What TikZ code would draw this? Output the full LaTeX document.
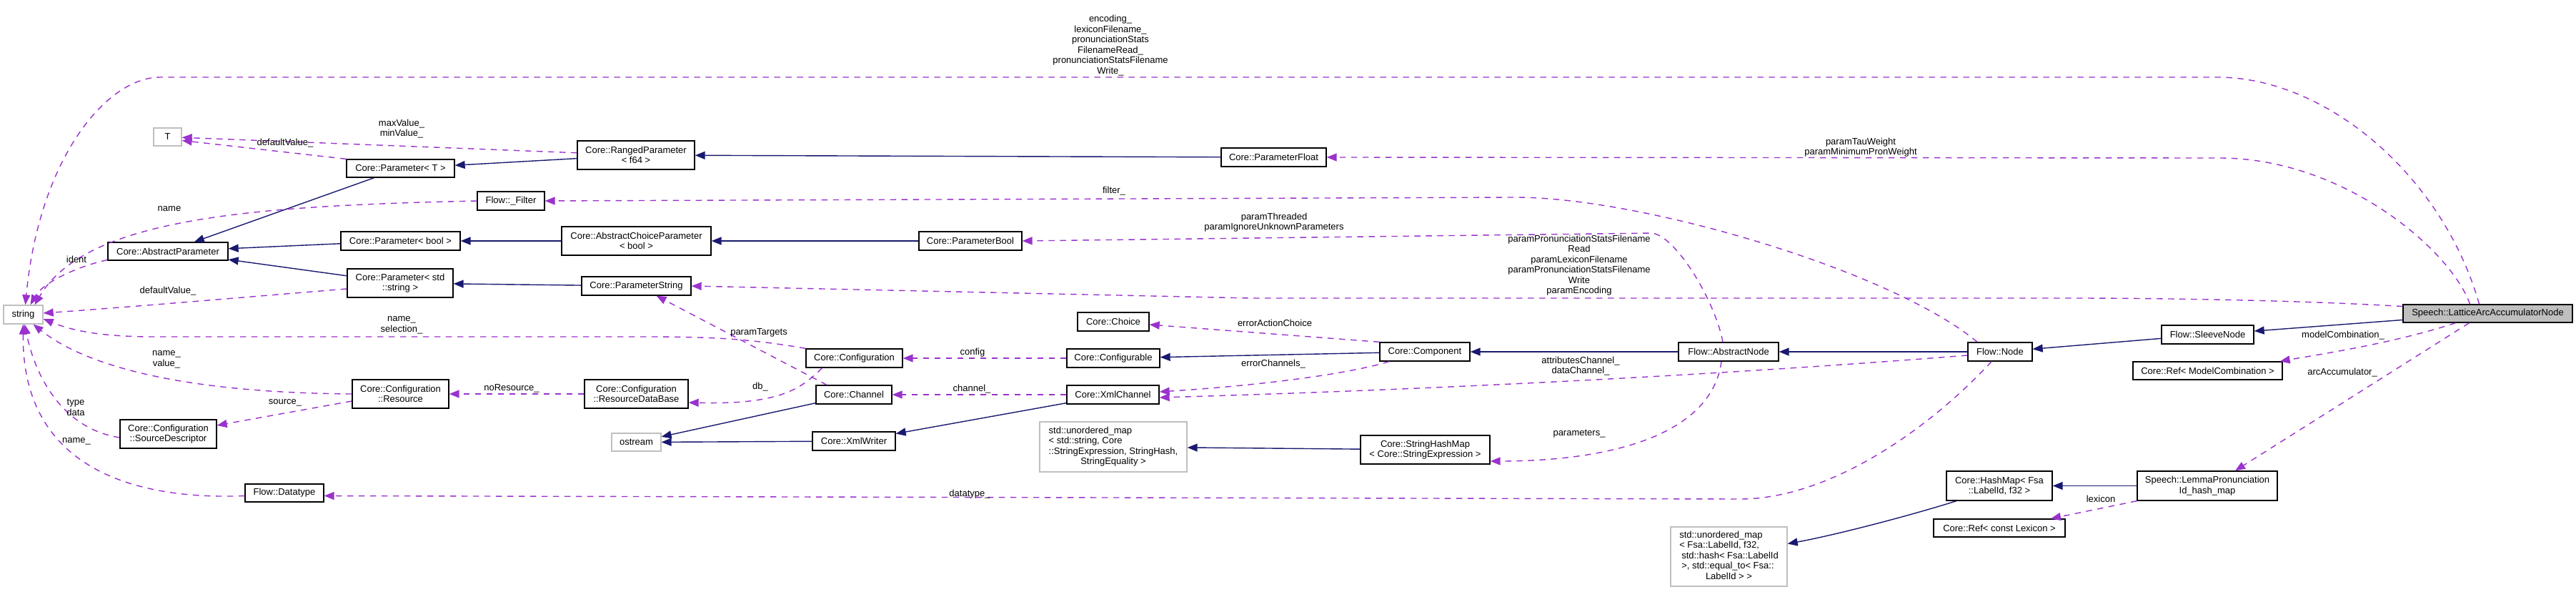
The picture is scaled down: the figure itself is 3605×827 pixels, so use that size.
\documentclass[tikz,border=0pt]{standalone}
\usepackage{fontspec}
\setmainfont{Liberation Sans}
\usetikzlibrary{arrows.meta}
\definecolor{inhcol}{HTML}{191970}
\definecolor{usecol}{HTML}{9A32CD}
\definecolor{extcol}{HTML}{BFBFBF}
\newcommand\dgfont{\fontsize{13}{14.5}\selectfont}
\tikzset{
  cls/.style={draw,line width=1.3pt,inner sep=0pt,align=center,font=\dgfont},
  ext/.style={cls,draw=extcol},
  hilite/.style={cls,fill=extcol},
  inherit/.style={draw=inhcol,line width=1.4pt,-{Triangle[length=14pt,width=11pt]}},
  uses/.style={draw=usecol,line width=1.4pt,dash pattern=on 8.5pt off 7.5pt,-{Triangle[length=14pt,width=11pt]}},
  lbl/.style={inner sep=0pt,align=center,font=\dgfont}
}
\begin{document}
\begin{tikzpicture}[x=1pt,y=-1pt]
\useasboundingbox (0,0) rectangle (3605,827);

\node[ext,minimum width=39pt,minimum height=25pt] (T) at (234.5,191.5) {T};
\node[cls,minimum width=164pt,minimum height=40pt] (Ranged) at (890,217) {Core::RangedParameter\\< f64 >};
\node[cls,minimum width=151pt,minimum height=25pt] (ParamT) at (560.5,235.5) {Core::Parameter< T >};
\node[cls,minimum width=94pt,minimum height=26pt] (Filter) at (715,281) {Flow::\_Filter};
\node[cls,minimum width=168pt,minimum height=25pt] (AbsParam) at (235,351.5) {Core::AbstractParameter};
\node[cls,minimum width=167pt,minimum height=26pt] (ParamOfBool) at (560.5,337) {Core::Parameter< bool >};
\node[cls,minimum width=209pt,minimum height=40pt] (AbsChoice) at (890.5,337) {Core::AbstractChoiceParameter\\< bool >};
\node[cls,minimum width=148pt,minimum height=40pt] (ParamStd) at (560,396) {Core::Parameter< std\\::string >};
\node[cls,minimum width=153pt,minimum height=26pt] (ParamString) at (890.5,400) {Core::ParameterString};
\node[ext,minimum width=55pt,minimum height=26pt] (string) at (32.5,440) {string};
\node[cls,minimum width=135pt,minimum height=40pt] (Resource) at (560.5,551) {Core::Configuration\\::Resource};
\node[cls,minimum width=145pt,minimum height=40pt] (ResDB) at (890.5,551) {Core::Configuration\\::ResourceDataBase};
\node[cls,minimum width=135pt,minimum height=40pt] (SrcDesc) at (235.5,607) {Core::Configuration\\::SourceDescriptor};
\node[ext,minimum width=69pt,minimum height=25pt] (ostream) at (890.5,618.5) {ostream};
\node[cls,minimum width=110pt,minimum height=25pt] (Datatype) at (398,689.5) {Flow::Datatype};
\node[cls,minimum width=147pt,minimum height=26pt] (ParamFloat) at (1782.5,220) {Core::ParameterFloat};
\node[cls,minimum width=144pt,minimum height=26pt] (ParamBool) at (1358,337) {Core::ParameterBool};
\node[cls,minimum width=100pt,minimum height=26pt] (Choice) at (1558,450) {Core::Choice};
\node[cls,minimum width=135pt,minimum height=26pt] (Configuration) at (1195.5,501) {Core::Configuration};
\node[cls,minimum width=130pt,minimum height=26pt] (Configurable) at (1558,501) {Core::Configurable};
\node[cls,minimum width=106pt,minimum height=26pt] (Channel) at (1195,552) {Core::Channel};
\node[cls,minimum width=129pt,minimum height=26pt] (XmlChannel) at (1557.5,552) {Core::XmlChannel};
\node[cls,minimum width=116pt,minimum height=26pt] (XmlWriter) at (1195,617) {Core::XmlWriter};
\node[ext,minimum width=206pt,minimum height=70pt] (umapStr) at (1558,625) {\begin{tabular}{@{}l@{}}std::unordered\_map\\< std::string, Core\\::StringExpression, StringHash,\\\multicolumn{1}{@{}c@{}}{StringEquality >}\end{tabular}};
\node[cls,minimum width=181pt,minimum height=40pt] (StrHashMap) at (1994.5,629) {Core::StringHashMap\\< Core::StringExpression >};
\node[cls,minimum width=126pt,minimum height=26pt] (Component) at (1994,492) {Core::Component};
\node[cls,minimum width=140pt,minimum height=26pt] (AbsNode) at (2419,492) {Flow::AbstractNode};
\node[cls,minimum width=90pt,minimum height=26pt] (FlowNode) at (2799,492) {Flow::Node};
\node[cls,minimum width=129pt,minimum height=26pt] (SleeveNode) at (3089.5,468) {Flow::SleeveNode};
\node[hilite,minimum width=237pt,minimum height=25pt] (Speech) at (3481.5,438.5) {Speech::LatticeArcAccumulatorNode};
\node[cls,minimum width=209pt,minimum height=25pt] (RefModel) at (3089.5,518.5) {Core::Ref< ModelCombination >};
\node[cls,minimum width=196pt,minimum height=41pt] (Lemma) at (3089,679.5) {Speech::LemmaPronunciation\\Id\_hash\_map};
\node[cls,minimum width=148pt,minimum height=41pt] (HashMap) at (2798,679.5) {Core::HashMap< Fsa\\::LabelId, f32 >};
\node[cls,minimum width=184pt,minimum height=25pt] (RefLex) at (2798,738.5) {Core::Ref< const Lexicon >};
\node[ext,minimum width=163pt,minimum height=83pt] (umapFsa) at (2419.5,778.5) {\begin{tabular}{@{}l@{}}std::unordered\_map\\< Fsa::LabelId, f32,\\\hspace{3pt}std::hash< Fsa::LabelId\\\hspace{3pt}>, std::equal\_to< Fsa::\\\multicolumn{1}{@{}c@{}}{LabelId > >}\end{tabular}};

\draw[inherit] (Ranged) -- (ParamT);
\draw[inherit] (ParamFloat) -- (Ranged);
\draw[inherit] (ParamT) -- (AbsParam);
\draw[inherit] (ParamOfBool) -- (AbsParam);
\draw[inherit] (AbsChoice) -- (ParamOfBool);
\draw[inherit] (ParamBool) -- (AbsChoice);
\draw[inherit] (ParamStd) -- (AbsParam);
\draw[inherit] (ParamString) -- (ParamStd);
\draw[inherit] (Component) -- (Configurable);
\draw[inherit] (AbsNode) -- (Component);
\draw[inherit] (FlowNode) -- (AbsNode);
\draw[inherit] (SleeveNode) -- (FlowNode);
\draw[inherit] (Speech) -- (SleeveNode);
\draw[inherit] (Channel) -- (ostream);
\draw[inherit] (XmlWriter) -- (ostream);
\draw[inherit] (XmlChannel) -- (XmlWriter);
\draw[inherit] (StrHashMap) -- (umapStr);
\draw[inherit] ([xshift=-60pt]HashMap.south) .. controls (2660,725) and (2560,750) .. ([yshift=18pt]umapFsa.east);
\draw[inherit] (Lemma) -- (HashMap);

\draw[uses] ([xshift=-12pt]Speech.north) .. controls (3420,250) and (3260,110) .. (3106,108) -- (224,108) .. controls (150,108) and (55,220) .. ([xshift=3pt]string.north);
\node[lbl] (lEnc) at (1554,63.5) {encoding\_\\lexiconFilename\_\\pronunciationStats\\FilenameRead\_\\pronunciationStatsFilename\\Write\_};
\draw[uses] (Ranged) -- (T);
\node[lbl] (lMax) at (562,180) {maxValue\_\\minValue\_};
\draw[uses] (ParamT.north west) -- ([yshift=-5pt]T.east);
\node[lbl] (lDefT) at (399,200) {defaultValue\_};
\draw[uses] (Filter.west) .. controls (350,288) and (120,305) .. ([xshift=16pt]string.north);
\node[lbl] (lName) at (237,292) {name};
\draw[uses] ([yshift=-12pt]AbsParam.west) .. controls (110,372) and (60,395) .. ([xshift=10pt]string.north);
\node[lbl] (lIdent) at (107,363) {ident};
\draw[uses] ([yshift=-8pt]ParamStd.west) .. controls (350,415) and (200,428) .. ([yshift=2pt]string.east);
\node[lbl] (lDefS) at (235,407) {defaultValue\_};
\draw[uses] (Configuration.north west) .. controls (1050,474) and (1000,471) .. (900,471) -- (215,471) .. controls (140,471) and (100,462) .. ([yshift=-6pt]string.east);
\node[lbl] (lSel) at (562,455) {name\_\\selection\_};
\draw[uses] (Resource.west) .. controls (350,550) and (150,535) .. ([xshift=14pt]string.south);
\node[lbl] (lVal) at (233,503) {name\_\\value\_};
\draw[uses] ([yshift=-5pt]SrcDesc.west) .. controls (90,600) and (50,530) .. ([xshift=2pt]string.south);
\node[lbl] (lType) at (106,570) {type\\data};
\draw[uses] ([yshift=-4pt]Datatype.west) .. controls (180,700) and (30,650) .. (string.south);
\node[lbl] (lDtName) at (107,617) {name\_};
\draw[uses] ([yshift=-10pt]Resource.west) -- ([yshift=12pt]SrcDesc.east);
\node[lbl] (lSrc) at (399,563) {source\_};
\draw[uses] (ResDB) -- (Resource);
\node[lbl] (lNoRes) at (716,543) {noResource\_};
\draw[uses] ([xshift=-45pt]Configuration.south) .. controls (1120,545) and (1090,566) .. ([yshift=-12pt]ResDB.east);
\node[lbl] (lDb) at (1064,541) {db\_};
\draw[uses] ([xshift=-38pt]Channel.north) -- ([xshift=28pt]ParamString.south);
\node[lbl] (lTargets) at (1062,465) {paramTargets};
\draw[uses] (Configurable) -- (Configuration);
\node[lbl] (lConfig) at (1361,493) {config};
\draw[uses] (XmlChannel) -- (Channel);
\node[lbl] (lChannel) at (1360,544) {channel\_};
\draw[uses] (Component.north west) -- ([yshift=-4pt]Choice.east);
\node[lbl] (lChoice) at (1784,452) {errorActionChoice};
\draw[uses] ([xshift=-50pt]Component.south) .. controls (1880,525) and (1750,540) .. ([yshift=4pt]XmlChannel.east);
\node[lbl] (lErrCh) at (1782,509) {errorChannels\_};
\draw[uses] ([yshift=-5pt]FlowNode.west) .. controls (2400,525) and (2000,545) .. ([yshift=-4pt]XmlChannel.east);
\node[lbl] (lAttr) at (2212,512) {attributesChannel\_\\dataChannel\_};
\draw[uses] ([xshift=-25pt]Speech.north) .. controls (3430,350) and (3280,221) .. (3106,221) -- (ParamFloat.east);
\node[lbl] (lTau) at (2604,206) {paramTauWeight\\paramMinimumPronWeight};
\draw[uses] ([xshift=-32pt]FlowNode.north) .. controls (2650,380) and (2300,276) .. (2121,276) -- (Filter.east);
\node[lbl] (lFilter) at (1559,267) {filter\_};
\draw[uses] ([yshift=10pt]Speech.west) .. controls (3200,419) and (3000,417) .. (2900,417) -- (1750,417) -- (ParamString.east);
\node[lbl] (lParams) at (2210,371) {paramPronunciationStatsFilename\\Read\\paramLexiconFilename\\paramPronunciationStatsFilename\\Write\\paramEncoding};
\draw[uses] ([xshift=-8pt]AbsNode.north) .. controls (2400,420) and (2345,330) .. (2312,326) -- (ParamBool.east);
\node[lbl] (lThreaded) at (1783,311) {paramThreaded\\paramIgnoreUnknownParameters};
\draw[uses] ([xshift=-10pt]AbsNode.south) .. controls (2395,610) and (2250,645) .. ([yshift=-16pt]StrHashMap.east);
\node[lbl] (lParamMap) at (2210,607) {parameters\_};
\draw[uses] ([xshift=-12pt]FlowNode.south) .. controls (2700,600) and (2560,698) .. (2435,698) -- ([yshift=-4pt]Datatype.east);
\node[lbl] (lDatatype) at (1357,691) {datatype\_};
\draw[uses] ([xshift=-45pt]Speech.south) .. controls (3350,480) and (3250,495) .. ([xshift=-4pt]RefModel.north east);
\node[lbl] (lModel) at (3279,469) {modelCombination\_};
\draw[uses] ([xshift=-26pt]Speech.south) -- ([xshift=39pt]Lemma.north);
\node[lbl] (lArc) at (3278,521) {arcAccumulator\_};
\draw[uses] (Lemma.south west) -- ([xshift=72pt]RefLex.north);
\node[lbl] (lLexicon) at (2940,698) {lexicon};
\end{tikzpicture}
\end{document}
